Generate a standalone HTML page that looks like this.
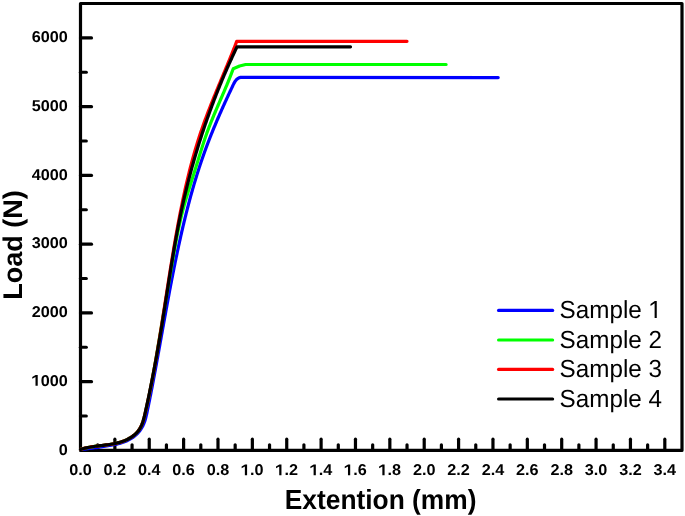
<!DOCTYPE html>
<html><head><meta charset="utf-8"><style>
html,body{margin:0;padding:0;background:#fff;overflow:hidden;}
svg{display:block;will-change:transform;}
text{font-family:"Liberation Sans",sans-serif;font-kerning:none;text-rendering:geometricPrecision;}
line{stroke:#000;stroke-width:3.2;stroke-linecap:round;}
.c{fill:none;stroke-width:3.2;stroke-linejoin:round;stroke-linecap:round;}
</style></head><body>
<svg width="685" height="516" viewBox="0 0 685 516">
<rect width="685" height="516" fill="#fff"/>
<rect x="80.5" y="3.5" width="601.5" height="446.9" fill="none" stroke="#000" stroke-width="3.2" stroke-linejoin="round"/>
<line x1="97.69" y1="450.4" x2="97.69" y2="444.80"/>
<line x1="114.87" y1="450.4" x2="114.87" y2="439.20"/>
<line x1="132.06" y1="450.4" x2="132.06" y2="444.80"/>
<line x1="149.24" y1="450.4" x2="149.24" y2="439.20"/>
<line x1="166.43" y1="450.4" x2="166.43" y2="444.80"/>
<line x1="183.61" y1="450.4" x2="183.61" y2="439.20"/>
<line x1="200.80" y1="450.4" x2="200.80" y2="444.80"/>
<line x1="217.99" y1="450.4" x2="217.99" y2="439.20"/>
<line x1="235.17" y1="450.4" x2="235.17" y2="444.80"/>
<line x1="252.36" y1="450.4" x2="252.36" y2="439.20"/>
<line x1="269.54" y1="450.4" x2="269.54" y2="444.80"/>
<line x1="286.73" y1="450.4" x2="286.73" y2="439.20"/>
<line x1="303.91" y1="450.4" x2="303.91" y2="444.80"/>
<line x1="321.10" y1="450.4" x2="321.10" y2="439.20"/>
<line x1="338.29" y1="450.4" x2="338.29" y2="444.80"/>
<line x1="355.47" y1="450.4" x2="355.47" y2="439.20"/>
<line x1="372.66" y1="450.4" x2="372.66" y2="444.80"/>
<line x1="389.84" y1="450.4" x2="389.84" y2="439.20"/>
<line x1="407.03" y1="450.4" x2="407.03" y2="444.80"/>
<line x1="424.21" y1="450.4" x2="424.21" y2="439.20"/>
<line x1="441.40" y1="450.4" x2="441.40" y2="444.80"/>
<line x1="458.59" y1="450.4" x2="458.59" y2="439.20"/>
<line x1="475.77" y1="450.4" x2="475.77" y2="444.80"/>
<line x1="492.96" y1="450.4" x2="492.96" y2="439.20"/>
<line x1="510.14" y1="450.4" x2="510.14" y2="444.80"/>
<line x1="527.33" y1="450.4" x2="527.33" y2="439.20"/>
<line x1="544.51" y1="450.4" x2="544.51" y2="444.80"/>
<line x1="561.70" y1="450.4" x2="561.70" y2="439.20"/>
<line x1="578.89" y1="450.4" x2="578.89" y2="444.80"/>
<line x1="596.07" y1="450.4" x2="596.07" y2="439.20"/>
<line x1="613.26" y1="450.4" x2="613.26" y2="444.80"/>
<line x1="630.44" y1="450.4" x2="630.44" y2="439.20"/>
<line x1="647.63" y1="450.4" x2="647.63" y2="444.80"/>
<line x1="664.81" y1="450.4" x2="664.81" y2="439.20"/>
<line x1="80.5" y1="416.02" x2="86.30" y2="416.02"/>
<line x1="80.5" y1="381.65" x2="91.50" y2="381.65"/>
<line x1="80.5" y1="347.27" x2="86.30" y2="347.27"/>
<line x1="80.5" y1="312.89" x2="91.50" y2="312.89"/>
<line x1="80.5" y1="278.52" x2="86.30" y2="278.52"/>
<line x1="80.5" y1="244.14" x2="91.50" y2="244.14"/>
<line x1="80.5" y1="209.76" x2="86.30" y2="209.76"/>
<line x1="80.5" y1="175.38" x2="91.50" y2="175.38"/>
<line x1="80.5" y1="141.01" x2="86.30" y2="141.01"/>
<line x1="80.5" y1="106.63" x2="91.50" y2="106.63"/>
<line x1="80.5" y1="72.25" x2="86.30" y2="72.25"/>
<line x1="80.5" y1="37.88" x2="91.50" y2="37.88"/>
<g transform="translate(69.22,475.30) scale(1.04,1.0)" style="font-size:15.6px;font-weight:bold"><text x="0.00" y="0">0.0</text></g>
<g transform="translate(103.59,475.30) scale(1.04,1.0)" style="font-size:15.6px;font-weight:bold"><text x="0.00" y="0">0.2</text></g>
<g transform="translate(137.97,475.30) scale(1.04,1.0)" style="font-size:15.6px;font-weight:bold"><text x="0.00" y="0">0.4</text></g>
<g transform="translate(172.34,475.30) scale(1.04,1.0)" style="font-size:15.6px;font-weight:bold"><text x="0.00" y="0">0.6</text></g>
<g transform="translate(206.71,475.30) scale(1.04,1.0)" style="font-size:15.6px;font-weight:bold"><text x="0.00" y="0">0.8</text></g>
<g transform="translate(241.08,475.30) scale(1.04,1.0)" style="font-size:15.6px;font-weight:bold"><path transform="translate(0.00,0) scale(0.007617,-0.007617)" d="M478,0 L478,1170 L70,930 L70,1165 L493,1409 L759,1409 L759,0 Z"/><text x="8.68" y="0">.0</text></g>
<g transform="translate(275.45,475.30) scale(1.04,1.0)" style="font-size:15.6px;font-weight:bold"><path transform="translate(0.00,0) scale(0.007617,-0.007617)" d="M478,0 L478,1170 L70,930 L70,1165 L493,1409 L759,1409 L759,0 Z"/><text x="8.68" y="0">.2</text></g>
<g transform="translate(309.82,475.30) scale(1.04,1.0)" style="font-size:15.6px;font-weight:bold"><path transform="translate(0.00,0) scale(0.007617,-0.007617)" d="M478,0 L478,1170 L70,930 L70,1165 L493,1409 L759,1409 L759,0 Z"/><text x="8.68" y="0">.4</text></g>
<g transform="translate(344.19,475.30) scale(1.04,1.0)" style="font-size:15.6px;font-weight:bold"><path transform="translate(0.00,0) scale(0.007617,-0.007617)" d="M478,0 L478,1170 L70,930 L70,1165 L493,1409 L759,1409 L759,0 Z"/><text x="8.68" y="0">.6</text></g>
<g transform="translate(378.57,475.30) scale(1.04,1.0)" style="font-size:15.6px;font-weight:bold"><path transform="translate(0.00,0) scale(0.007617,-0.007617)" d="M478,0 L478,1170 L70,930 L70,1165 L493,1409 L759,1409 L759,0 Z"/><text x="8.68" y="0">.8</text></g>
<g transform="translate(412.94,475.30) scale(1.04,1.0)" style="font-size:15.6px;font-weight:bold"><text x="0.00" y="0">2.0</text></g>
<g transform="translate(447.31,475.30) scale(1.04,1.0)" style="font-size:15.6px;font-weight:bold"><text x="0.00" y="0">2.2</text></g>
<g transform="translate(481.68,475.30) scale(1.04,1.0)" style="font-size:15.6px;font-weight:bold"><text x="0.00" y="0">2.4</text></g>
<g transform="translate(516.05,475.30) scale(1.04,1.0)" style="font-size:15.6px;font-weight:bold"><text x="0.00" y="0">2.6</text></g>
<g transform="translate(550.42,475.30) scale(1.04,1.0)" style="font-size:15.6px;font-weight:bold"><text x="0.00" y="0">2.8</text></g>
<g transform="translate(584.79,475.30) scale(1.04,1.0)" style="font-size:15.6px;font-weight:bold"><text x="0.00" y="0">3.0</text></g>
<g transform="translate(619.17,475.30) scale(1.04,1.0)" style="font-size:15.6px;font-weight:bold"><text x="0.00" y="0">3.2</text></g>
<g transform="translate(653.54,475.30) scale(1.04,1.0)" style="font-size:15.6px;font-weight:bold"><text x="0.00" y="0">3.4</text></g>
<g transform="translate(58.78,454.60) scale(1.04,1.0)" style="font-size:15.6px;font-weight:bold"><text x="0.00" y="0">0</text></g>
<g transform="translate(31.71,385.85) scale(1.04,1.0)" style="font-size:15.6px;font-weight:bold"><path transform="translate(0.00,0) scale(0.007617,-0.007617)" d="M478,0 L478,1170 L70,930 L70,1165 L493,1409 L759,1409 L759,0 Z"/><text x="8.68" y="0">000</text></g>
<g transform="translate(31.71,317.09) scale(1.04,1.0)" style="font-size:15.6px;font-weight:bold"><text x="0.00" y="0">2000</text></g>
<g transform="translate(31.71,248.34) scale(1.04,1.0)" style="font-size:15.6px;font-weight:bold"><text x="0.00" y="0">3000</text></g>
<g transform="translate(31.71,179.58) scale(1.04,1.0)" style="font-size:15.6px;font-weight:bold"><text x="0.00" y="0">4000</text></g>
<g transform="translate(31.71,110.83) scale(1.04,1.0)" style="font-size:15.6px;font-weight:bold"><text x="0.00" y="0">5000</text></g>
<g transform="translate(31.71,42.08) scale(1.04,1.0)" style="font-size:15.6px;font-weight:bold"><text x="0.00" y="0">6000</text></g>
<path class="c" d="M80.50,449.53 L81.97,449.37 L83.43,449.22 L84.88,449.05 L86.34,448.88 L87.79,448.71 L89.24,448.53 L90.69,448.35 L92.14,448.16 L93.58,447.96 L95.03,447.77 L96.48,447.56 L97.92,447.36 L99.37,447.14 L100.81,446.93 L102.26,446.71 L103.71,446.48 L105.16,446.25 L106.61,446.02 L108.06,445.78 L109.52,445.54 L110.97,445.28 L112.42,445.02 L113.87,444.73 L115.31,444.43 L116.75,444.11 L118.17,443.76 L119.59,443.38 L120.99,442.97 L122.39,442.53 L123.76,442.05 L125.12,441.52 L126.47,440.96 L127.79,440.34 L129.09,439.67 L130.37,438.95 L131.62,438.18 L132.85,437.36 L134.03,436.48 L135.18,435.56 L136.28,434.58 L137.34,433.56 L138.34,432.49 L139.29,431.37 L140.18,430.21 L141.01,429.01 L141.77,427.77 L142.48,426.50 L143.14,425.19 L143.73,423.86 L144.28,422.50 L144.76,421.12 L145.21,419.73 L145.61,418.32 L145.97,416.90 L146.31,415.46 L146.64,414.03 L146.95,412.59 L147.25,411.15 L147.55,409.71 L147.85,408.26 L148.15,406.82 L148.45,405.38 L148.74,403.95 L149.03,402.51 L149.32,401.07 L149.61,399.63 L149.90,398.19 L150.18,396.75 L150.47,395.31 L150.75,393.88 L151.03,392.44 L151.31,391.00 L151.59,389.56 L151.87,388.12 L152.14,386.69 L152.42,385.25 L152.69,383.81 L152.96,382.37 L153.23,380.93 L153.50,379.50 L153.77,378.06 L154.04,376.62 L154.31,375.18 L154.58,373.74 L154.85,372.30 L155.11,370.86 L155.38,369.42 L155.64,367.98 L155.91,366.54 L156.17,365.10 L156.43,363.66 L156.69,362.22 L156.96,360.78 L157.22,359.34 L157.48,357.89 L157.74,356.45 L158.00,355.01 L158.26,353.57 L158.52,352.13 L158.78,350.68 L159.04,349.24 L159.30,347.80 L159.56,346.36 L159.81,344.91 L160.07,343.47 L160.33,342.03 L160.59,340.58 L160.85,339.14 L161.11,337.70 L161.36,336.25 L161.62,334.81 L161.88,333.37 L162.14,331.92 L162.40,330.48 L162.65,329.04 L162.91,327.59 L163.17,326.15 L163.43,324.71 L163.69,323.26 L163.95,321.82 L164.21,320.38 L164.47,318.93 L164.73,317.49 L164.99,316.04 L165.25,314.60 L165.51,313.16 L165.77,311.71 L166.03,310.27 L166.29,308.83 L166.56,307.38 L166.82,305.94 L167.09,304.50 L167.35,303.06 L167.61,301.61 L167.88,300.17 L168.15,298.73 L168.41,297.29 L168.68,295.84 L168.95,294.40 L169.22,292.96 L169.49,291.52 L169.76,290.08 L170.03,288.63 L170.31,287.19 L170.58,285.75 L170.85,284.31 L171.13,282.87 L171.41,281.43 L171.68,279.99 L171.96,278.55 L172.24,277.11 L172.52,275.67 L172.80,274.23 L173.09,272.79 L173.37,271.35 L173.66,269.91 L173.94,268.48 L174.23,267.04 L174.52,265.60 L174.81,264.16 L175.10,262.73 L175.39,261.29 L175.69,259.85 L175.98,258.42 L176.28,256.98 L176.58,255.55 L176.88,254.11 L177.18,252.68 L177.48,251.24 L177.79,249.81 L178.10,248.38 L178.40,246.94 L178.71,245.51 L179.02,244.08 L179.34,242.65 L179.65,241.21 L179.97,239.78 L180.29,238.35 L180.61,236.92 L180.93,235.49 L181.25,234.06 L181.58,232.63 L181.90,231.21 L182.23,229.78 L182.56,228.35 L182.90,226.92 L183.23,225.50 L183.57,224.07 L183.91,222.65 L184.25,221.22 L184.60,219.80 L184.94,218.37 L185.29,216.95 L185.64,215.53 L185.99,214.11 L186.35,212.69 L186.71,211.27 L187.07,209.85 L187.43,208.43 L187.80,207.01 L188.17,205.59 L188.54,204.18 L188.91,202.76 L189.29,201.34 L189.66,199.93 L190.05,198.52 L190.43,197.10 L190.82,195.69 L191.21,194.28 L191.60,192.87 L192.00,191.46 L192.40,190.05 L192.80,188.64 L193.20,187.24 L193.61,185.83 L194.02,184.42 L194.44,183.02 L194.86,181.62 L195.28,180.21 L195.70,178.81 L196.13,177.41 L196.56,176.01 L197.00,174.61 L197.43,173.21 L197.88,171.82 L198.32,170.42 L198.77,169.03 L199.22,167.63 L199.68,166.24 L200.14,164.85 L200.60,163.46 L201.07,162.07 L201.54,160.68 L202.01,159.29 L202.49,157.91 L202.97,156.52 L203.46,155.14 L203.95,153.76 L204.44,152.38 L204.94,151.00 L205.44,149.62 L205.95,148.24 L206.46,146.86 L206.97,145.49 L207.49,144.11 L208.01,142.74 L208.54,141.37 L209.07,140.00 L209.60,138.63 L210.14,137.26 L210.68,135.90 L211.22,134.53 L211.77,133.17 L212.32,131.81 L212.87,130.44 L213.43,129.08 L213.99,127.72 L214.55,126.37 L215.12,125.01 L215.69,123.66 L216.26,122.30 L216.83,120.95 L217.41,119.60 L217.99,118.25 L218.57,116.90 L219.16,115.55 L219.75,114.21 L220.34,112.86 L220.93,111.52 L221.52,110.18 L222.12,108.84 L222.72,107.50 L223.32,106.16 L223.93,104.82 L224.53,103.49 L225.14,102.15 L225.75,100.82 L226.36,99.49 L226.97,98.16 L227.59,96.83 L228.20,95.50 L228.82,94.18 L229.44,92.85 L230.06,91.53 L230.68,90.21 L231.31,88.89 L231.93,87.57 L232.56,86.25 L233.18,84.93 L233.82,83.63 L234.50,82.38 L235.23,81.19 L236.05,80.11 L236.97,79.16 L238.03,78.37 L239.23,77.77 L240.62,77.39 L242.20,77.25 L244.00,77.39 L498.20,77.60" stroke="#0000ff"/>
<path class="c" d="M80.55,449.39 L81.96,448.97 L83.36,448.58 L84.77,448.22 L86.18,447.90 L87.60,447.59 L89.01,447.32 L90.43,447.06 L91.85,446.82 L93.28,446.60 L94.71,446.39 L96.15,446.20 L97.60,446.01 L99.04,445.83 L100.50,445.65 L101.96,445.47 L103.43,445.29 L104.90,445.11 L106.38,444.92 L107.86,444.71 L109.34,444.50 L110.81,444.27 L112.29,444.02 L113.75,443.75 L115.22,443.45 L116.67,443.12 L118.12,442.77 L119.55,442.38 L120.97,441.95 L122.38,441.49 L123.77,440.98 L125.14,440.43 L126.50,439.83 L127.83,439.18 L129.13,438.48 L130.40,437.74 L131.63,436.95 L132.82,436.11 L133.96,435.23 L135.06,434.29 L136.10,433.31 L137.08,432.28 L137.99,431.20 L138.84,430.08 L139.62,428.91 L140.33,427.69 L140.99,426.44 L141.59,425.15 L142.14,423.83 L142.65,422.48 L143.12,421.11 L143.56,419.71 L143.96,418.30 L144.34,416.87 L144.70,415.43 L145.05,413.98 L145.38,412.53 L145.71,411.08 L146.04,409.63 L146.37,408.18 L146.69,406.73 L147.00,405.28 L147.32,403.83 L147.63,402.38 L147.94,400.94 L148.24,399.49 L148.55,398.04 L148.85,396.60 L149.15,395.16 L149.44,393.71 L149.73,392.27 L150.02,390.83 L150.31,389.38 L150.59,387.94 L150.88,386.50 L151.16,385.06 L151.43,383.62 L151.71,382.18 L151.98,380.74 L152.26,379.30 L152.53,377.86 L152.79,376.42 L153.06,374.98 L153.32,373.54 L153.59,372.10 L153.85,370.67 L154.11,369.23 L154.37,367.79 L154.62,366.35 L154.88,364.91 L155.13,363.48 L155.38,362.04 L155.63,360.60 L155.88,359.16 L156.13,357.73 L156.38,356.29 L156.63,354.85 L156.87,353.41 L157.12,351.98 L157.36,350.54 L157.61,349.10 L157.85,347.66 L158.09,346.22 L158.34,344.79 L158.58,343.35 L158.82,341.91 L159.06,340.47 L159.30,339.03 L159.54,337.59 L159.78,336.15 L160.02,334.71 L160.26,333.27 L160.51,331.82 L160.75,330.38 L160.99,328.94 L161.23,327.50 L161.47,326.05 L161.71,324.61 L161.95,323.16 L162.19,321.72 L162.44,320.28 L162.68,318.83 L162.92,317.38 L163.16,315.94 L163.41,314.49 L163.65,313.05 L163.89,311.60 L164.14,310.15 L164.38,308.71 L164.62,307.26 L164.87,305.81 L165.11,304.36 L165.36,302.91 L165.60,301.47 L165.85,300.02 L166.09,298.57 L166.34,297.12 L166.58,295.67 L166.83,294.22 L167.08,292.78 L167.32,291.33 L167.57,289.88 L167.82,288.43 L168.06,286.98 L168.31,285.53 L168.56,284.09 L168.81,282.64 L169.05,281.19 L169.30,279.74 L169.55,278.29 L169.80,276.85 L170.05,275.40 L170.30,273.95 L170.55,272.51 L170.80,271.06 L171.05,269.61 L171.30,268.17 L171.55,266.72 L171.80,265.27 L172.05,263.83 L172.30,262.38 L172.55,260.94 L172.80,259.50 L173.05,258.05 L173.30,256.61 L173.56,255.17 L173.81,253.72 L174.07,252.28 L174.32,250.84 L174.58,249.40 L174.84,247.96 L175.10,246.52 L175.36,245.08 L175.63,243.64 L175.89,242.20 L176.16,240.77 L176.44,239.33 L176.71,237.89 L176.99,236.46 L177.27,235.02 L177.56,233.59 L177.84,232.16 L178.14,230.73 L178.43,229.30 L178.73,227.87 L179.04,226.44 L179.35,225.01 L179.66,223.58 L179.98,222.16 L180.31,220.73 L180.63,219.31 L180.97,217.88 L181.31,216.46 L181.66,215.04 L182.01,213.62 L182.37,212.20 L182.73,210.79 L183.10,209.37 L183.48,207.95 L183.86,206.54 L184.25,205.13 L184.65,203.72 L185.05,202.31 L185.46,200.90 L185.87,199.49 L186.28,198.08 L186.70,196.67 L187.12,195.27 L187.55,193.86 L187.98,192.46 L188.41,191.05 L188.84,189.65 L189.28,188.25 L189.72,186.84 L190.16,185.44 L190.60,184.04 L191.04,182.64 L191.49,181.24 L191.93,179.84 L192.37,178.43 L192.82,177.03 L193.26,175.63 L193.70,174.23 L194.14,172.83 L194.58,171.43 L195.02,170.03 L195.46,168.63 L195.89,167.23 L196.32,165.83 L196.75,164.43 L197.19,163.03 L197.62,161.63 L198.05,160.23 L198.48,158.83 L198.91,157.43 L199.34,156.03 L199.77,154.63 L200.21,153.23 L200.64,151.84 L201.08,150.44 L201.52,149.05 L201.96,147.65 L202.41,146.26 L202.86,144.87 L203.31,143.48 L203.77,142.09 L204.23,140.71 L204.70,139.32 L205.17,137.94 L205.64,136.55 L206.13,135.17 L206.61,133.80 L207.11,132.42 L207.61,131.05 L208.12,129.67 L208.63,128.30 L209.15,126.94 L209.68,125.57 L210.21,124.21 L210.75,122.84 L211.29,121.48 L211.84,120.12 L212.40,118.77 L212.96,117.41 L213.52,116.06 L214.08,114.70 L214.65,113.35 L215.23,112.00 L215.80,110.65 L216.38,109.30 L216.96,107.95 L217.54,106.60 L218.12,105.25 L218.71,103.90 L219.29,102.56 L219.88,101.21 L220.46,99.86 L221.05,98.51 L221.64,97.17 L222.22,95.82 L222.80,94.47 L223.38,93.12 L223.96,91.78 L224.54,90.43 L225.12,89.08 L225.69,87.73 L226.26,86.37 L226.83,85.02 L227.39,83.67 L227.95,82.31 L228.50,80.96 L229.05,79.60 L229.59,78.24 L230.13,76.88 L230.67,75.52 L231.19,74.15 L231.71,72.79 L232.23,71.42 L232.73,70.05 L233.23,68.68 L239.60,66.00 L245.60,64.50 L446.10,64.50" stroke="#00ff00"/>
<path class="c" d="M80.57,449.40 L82.06,448.94 L83.54,448.53 L85.03,448.15 L86.53,447.81 L88.03,447.49 L89.53,447.21 L91.03,446.94 L92.55,446.70 L94.07,446.48 L95.59,446.27 L97.12,446.07 L98.66,445.87 L100.21,445.69 L101.77,445.50 L103.33,445.31 L104.90,445.12 L106.47,444.92 L108.05,444.71 L109.62,444.48 L111.19,444.23 L112.76,443.96 L114.32,443.66 L115.88,443.33 L117.42,442.97 L118.96,442.57 L120.48,442.13 L121.98,441.65 L123.46,441.12 L124.93,440.53 L126.37,439.90 L127.79,439.21 L129.17,438.46 L130.52,437.66 L131.82,436.81 L133.08,435.91 L134.28,434.95 L135.42,433.94 L136.50,432.87 L137.50,431.76 L138.44,430.59 L139.29,429.37 L140.07,428.10 L140.78,426.79 L141.43,425.44 L142.02,424.05 L142.56,422.63 L143.06,421.19 L143.51,419.71 L143.94,418.22 L144.33,416.72 L144.71,415.20 L145.07,413.67 L145.42,412.14 L145.76,410.60 L146.11,409.07 L146.45,407.54 L146.79,406.00 L147.12,404.47 L147.45,402.94 L147.78,401.40 L148.11,399.87 L148.44,398.34 L148.76,396.80 L149.08,395.27 L149.39,393.73 L149.71,392.20 L150.02,390.66 L150.33,389.13 L150.64,387.60 L150.94,386.06 L151.24,384.53 L151.54,382.99 L151.84,381.46 L152.14,379.92 L152.43,378.39 L152.72,376.85 L153.01,375.31 L153.30,373.78 L153.58,372.24 L153.87,370.71 L154.15,369.17 L154.43,367.64 L154.71,366.10 L154.98,364.56 L155.26,363.03 L155.53,361.49 L155.80,359.96 L156.07,358.42 L156.34,356.88 L156.61,355.35 L156.87,353.81 L157.14,352.27 L157.40,350.74 L157.66,349.20 L157.92,347.66 L158.18,346.13 L158.43,344.59 L158.69,343.05 L158.94,341.52 L159.20,339.98 L159.45,338.44 L159.70,336.91 L159.95,335.37 L160.20,333.83 L160.45,332.30 L160.70,330.76 L160.94,329.22 L161.19,327.69 L161.43,326.15 L161.68,324.61 L161.92,323.08 L162.17,321.54 L162.41,320.00 L162.65,318.47 L162.89,316.93 L163.13,315.39 L163.37,313.86 L163.61,312.32 L163.85,310.78 L164.09,309.25 L164.33,307.71 L164.57,306.17 L164.81,304.64 L165.05,303.10 L165.28,301.56 L165.52,300.03 L165.76,298.49 L166.00,296.95 L166.24,295.42 L166.47,293.88 L166.71,292.35 L166.95,290.81 L167.19,289.27 L167.43,287.74 L167.67,286.20 L167.91,284.67 L168.15,283.13 L168.39,281.59 L168.63,280.06 L168.87,278.52 L169.11,276.99 L169.35,275.45 L169.60,273.92 L169.84,272.38 L170.08,270.85 L170.33,269.31 L170.57,267.78 L170.82,266.24 L171.07,264.71 L171.32,263.18 L171.57,261.64 L171.82,260.11 L172.07,258.57 L172.32,257.04 L172.57,255.51 L172.83,253.97 L173.08,252.44 L173.34,250.90 L173.59,249.37 L173.85,247.84 L174.11,246.31 L174.38,244.77 L174.64,243.24 L174.90,241.71 L175.17,240.17 L175.44,238.64 L175.71,237.11 L175.98,235.58 L176.25,234.05 L176.52,232.52 L176.80,230.98 L177.08,229.45 L177.35,227.92 L177.64,226.39 L177.92,224.86 L178.20,223.33 L178.49,221.80 L178.78,220.27 L179.07,218.74 L179.36,217.21 L179.66,215.68 L179.96,214.15 L180.25,212.62 L180.56,211.09 L180.86,209.56 L181.17,208.04 L181.47,206.51 L181.79,204.98 L182.10,203.45 L182.41,201.93 L182.73,200.40 L183.05,198.87 L183.38,197.35 L183.71,195.82 L184.03,194.30 L184.37,192.77 L184.70,191.25 L185.04,189.72 L185.38,188.20 L185.73,186.68 L186.07,185.16 L186.42,183.64 L186.78,182.12 L187.14,180.60 L187.50,179.08 L187.86,177.56 L188.23,176.05 L188.60,174.53 L188.97,173.02 L189.35,171.50 L189.73,169.99 L190.12,168.48 L190.51,166.97 L190.90,165.46 L191.30,163.95 L191.70,162.45 L192.11,160.94 L192.52,159.44 L192.93,157.93 L193.35,156.43 L193.77,154.93 L194.20,153.43 L194.63,151.93 L195.06,150.44 L195.50,148.94 L195.94,147.45 L196.39,145.96 L196.85,144.47 L197.30,142.98 L197.77,141.49 L198.23,140.01 L198.71,138.53 L199.18,137.04 L199.66,135.57 L200.15,134.09 L200.64,132.61 L201.14,131.14 L201.64,129.66 L202.15,128.19 L202.66,126.73 L203.18,125.26 L203.70,123.79 L204.23,122.33 L204.76,120.87 L205.30,119.41 L205.84,117.95 L206.38,116.49 L206.93,115.04 L207.48,113.58 L208.04,112.13 L208.59,110.68 L209.16,109.23 L209.72,107.78 L210.29,106.33 L210.86,104.88 L211.44,103.44 L212.01,101.99 L212.59,100.55 L213.17,99.11 L213.76,97.66 L214.34,96.22 L214.93,94.78 L215.52,93.34 L216.11,91.90 L216.70,90.46 L217.29,89.02 L217.89,87.58 L218.48,86.14 L219.08,84.71 L219.68,83.27 L220.28,81.83 L220.88,80.39 L221.47,78.96 L222.07,77.52 L222.67,76.08 L223.27,74.64 L223.87,73.21 L224.47,71.77 L225.07,70.33 L225.66,68.89 L226.26,67.45 L226.85,66.01 L227.45,64.57 L228.04,63.13 L228.63,61.69 L229.22,60.25 L229.81,58.81 L230.40,57.37 L230.98,55.92 L231.56,54.48 L232.14,53.03 L232.72,51.59 L233.30,50.14 L233.87,48.69 L234.44,47.24 L235.01,45.79 L235.57,44.34 L236.13,42.89 L236.69,41.43 L407.00,41.30" stroke="#ff0000"/>
<path class="c" d="M80.55,449.39 L82.03,448.95 L83.51,448.54 L84.99,448.17 L86.47,447.83 L87.96,447.52 L89.45,447.24 L90.94,446.97 L92.44,446.73 L93.94,446.50 L95.45,446.29 L96.96,446.09 L98.48,445.90 L100.00,445.71 L101.53,445.52 L103.07,445.33 L104.62,445.14 L106.17,444.94 L107.72,444.73 L109.27,444.51 L110.82,444.26 L112.36,444.00 L113.90,443.71 L115.44,443.40 L116.96,443.05 L118.48,442.67 L119.98,442.25 L121.47,441.79 L122.95,441.28 L124.41,440.73 L125.85,440.12 L127.26,439.46 L128.65,438.75 L130.01,437.99 L131.32,437.18 L132.59,436.31 L133.81,435.39 L134.97,434.41 L136.07,433.39 L137.11,432.31 L138.07,431.18 L138.95,429.99 L139.76,428.76 L140.49,427.48 L141.16,426.15 L141.76,424.79 L142.32,423.39 L142.82,421.96 L143.28,420.51 L143.71,419.03 L144.10,417.53 L144.47,416.03 L144.83,414.51 L145.17,412.98 L145.51,411.46 L145.84,409.93 L146.17,408.41 L146.51,406.88 L146.83,405.36 L147.16,403.84 L147.49,402.32 L147.81,400.80 L148.13,399.28 L148.45,397.76 L148.77,396.24 L149.08,394.73 L149.40,393.21 L149.71,391.69 L150.02,390.18 L150.33,388.66 L150.63,387.15 L150.94,385.63 L151.24,384.12 L151.54,382.61 L151.84,381.09 L152.14,379.58 L152.44,378.07 L152.73,376.56 L153.02,375.05 L153.32,373.54 L153.60,372.02 L153.89,370.51 L154.18,369.00 L154.47,367.49 L154.75,365.98 L155.03,364.47 L155.31,362.96 L155.59,361.45 L155.87,359.94 L156.14,358.43 L156.42,356.92 L156.69,355.41 L156.96,353.90 L157.23,352.39 L157.50,350.88 L157.77,349.37 L158.04,347.86 L158.30,346.35 L158.56,344.84 L158.83,343.33 L159.09,341.82 L159.35,340.31 L159.60,338.80 L159.86,337.28 L160.12,335.77 L160.37,334.26 L160.62,332.75 L160.88,331.23 L161.13,329.72 L161.38,328.20 L161.63,326.69 L161.87,325.17 L162.12,323.65 L162.37,322.14 L162.61,320.62 L162.85,319.10 L163.10,317.59 L163.34,316.07 L163.58,314.55 L163.82,313.03 L164.06,311.51 L164.30,309.99 L164.54,308.47 L164.78,306.95 L165.02,305.43 L165.26,303.91 L165.49,302.39 L165.73,300.87 L165.97,299.34 L166.21,297.82 L166.44,296.30 L166.68,294.78 L166.92,293.26 L167.16,291.73 L167.39,290.21 L167.63,288.69 L167.87,287.17 L168.11,285.64 L168.35,284.12 L168.59,282.60 L168.83,281.07 L169.07,279.55 L169.31,278.03 L169.55,276.51 L169.79,274.98 L170.03,273.46 L170.28,271.94 L170.52,270.42 L170.77,268.89 L171.01,267.37 L171.26,265.85 L171.51,264.33 L171.76,262.81 L172.01,261.28 L172.26,259.76 L172.51,258.24 L172.77,256.72 L173.02,255.20 L173.28,253.68 L173.54,252.16 L173.80,250.64 L174.06,249.12 L174.33,247.60 L174.59,246.08 L174.86,244.56 L175.13,243.05 L175.40,241.53 L175.67,240.01 L175.94,238.49 L176.22,236.98 L176.50,235.46 L176.78,233.95 L177.06,232.43 L177.35,230.92 L177.64,229.40 L177.93,227.89 L178.22,226.38 L178.51,224.86 L178.81,223.35 L179.11,221.84 L179.41,220.33 L179.72,218.82 L180.02,217.31 L180.33,215.80 L180.65,214.29 L180.96,212.79 L181.28,211.28 L181.60,209.77 L181.93,208.27 L182.26,206.76 L182.59,205.26 L182.92,203.76 L183.26,202.26 L183.60,200.75 L183.94,199.25 L184.29,197.75 L184.64,196.25 L184.99,194.76 L185.34,193.26 L185.70,191.76 L186.06,190.27 L186.43,188.77 L186.79,187.28 L187.16,185.78 L187.54,184.29 L187.91,182.80 L188.29,181.31 L188.68,179.82 L189.06,178.33 L189.45,176.84 L189.84,175.35 L190.24,173.86 L190.63,172.38 L191.03,170.89 L191.44,169.41 L191.84,167.93 L192.25,166.44 L192.67,164.96 L193.08,163.48 L193.50,162.00 L193.92,160.52 L194.35,159.04 L194.78,157.57 L195.21,156.09 L195.64,154.61 L196.08,153.14 L196.52,151.67 L196.96,150.19 L197.41,148.72 L197.86,147.25 L198.31,145.78 L198.77,144.31 L199.23,142.84 L199.69,141.38 L200.15,139.91 L200.62,138.44 L201.09,136.98 L201.57,135.52 L202.04,134.06 L202.52,132.59 L203.01,131.13 L203.49,129.67 L203.98,128.22 L204.47,126.76 L204.97,125.30 L205.47,123.85 L205.97,122.39 L206.47,120.94 L206.98,119.49 L207.49,118.04 L208.01,116.59 L208.52,115.14 L209.04,113.69 L209.57,112.24 L210.09,110.80 L210.62,109.35 L211.15,107.91 L211.69,106.46 L212.23,105.02 L212.77,103.58 L213.31,102.14 L213.86,100.70 L214.41,99.27 L214.97,97.83 L215.52,96.39 L216.08,94.96 L216.65,93.53 L217.21,92.09 L217.78,90.66 L218.36,89.23 L218.93,87.81 L219.51,86.38 L220.09,84.95 L220.68,83.53 L221.27,82.10 L221.86,80.68 L222.45,79.26 L223.05,77.84 L223.65,76.42 L224.25,75.00 L224.86,73.58 L225.47,72.17 L226.08,70.75 L226.70,69.34 L227.32,67.93 L227.94,66.51 L228.57,65.10 L229.19,63.70 L229.83,62.29 L230.46,60.88 L231.10,59.48 L231.74,58.07 L232.38,56.67 L233.03,55.27 L233.68,53.87 L234.33,52.47 L234.99,51.07 L235.65,49.68 L236.31,48.28 L236.98,46.89 L350.50,46.80" stroke="#000000"/>
<line x1="498.6" y1="310.4" x2="552.6" y2="310.4" style="stroke:#0000ff;stroke-width:3.2px"/>
<g transform="translate(559.60,318.10) scale(1.01,1.03)" style="font-size:24px;font-weight:normal"><text x="0.00" y="0">Sample&#160;</text><path transform="translate(88.04,0) scale(0.011719,-0.011719)" d="M515,0 L515,1237 L170,1000 L170,1175 L530,1409 L696,1409 L696,0 Z"/></g>
<line x1="498.6" y1="340.0" x2="552.6" y2="340.0" style="stroke:#00ff00;stroke-width:3.2px"/>
<g transform="translate(559.60,347.70) scale(1.01,1.03)" style="font-size:24px;font-weight:normal"><text x="0.00" y="0">Sample&#160;2</text></g>
<line x1="498.6" y1="369.4" x2="552.6" y2="369.4" style="stroke:#ff0000;stroke-width:3.2px"/>
<g transform="translate(559.60,377.10) scale(1.01,1.03)" style="font-size:24px;font-weight:normal"><text x="0.00" y="0">Sample&#160;3</text></g>
<line x1="498.6" y1="399.0" x2="552.6" y2="399.0" style="stroke:#000000;stroke-width:3.2px"/>
<g transform="translate(559.60,406.70) scale(1.01,1.03)" style="font-size:24px;font-weight:normal"><text x="0.00" y="0">Sample&#160;4</text></g>
<g transform="translate(284.75,508.60) scale(0.994,1.04)" style="font-size:26.5px;font-weight:bold"><text x="0.00" y="0">Extention&#160;(mm)</text></g>
<g transform="translate(22,245) rotate(-90)"><g transform="translate(-54.74,0.00) scale(1.0,1.0)" style="font-size:27px;font-weight:bold"><text x="0.00" y="0">Load&#160;(N)</text></g></g>
</svg>
</body></html>
